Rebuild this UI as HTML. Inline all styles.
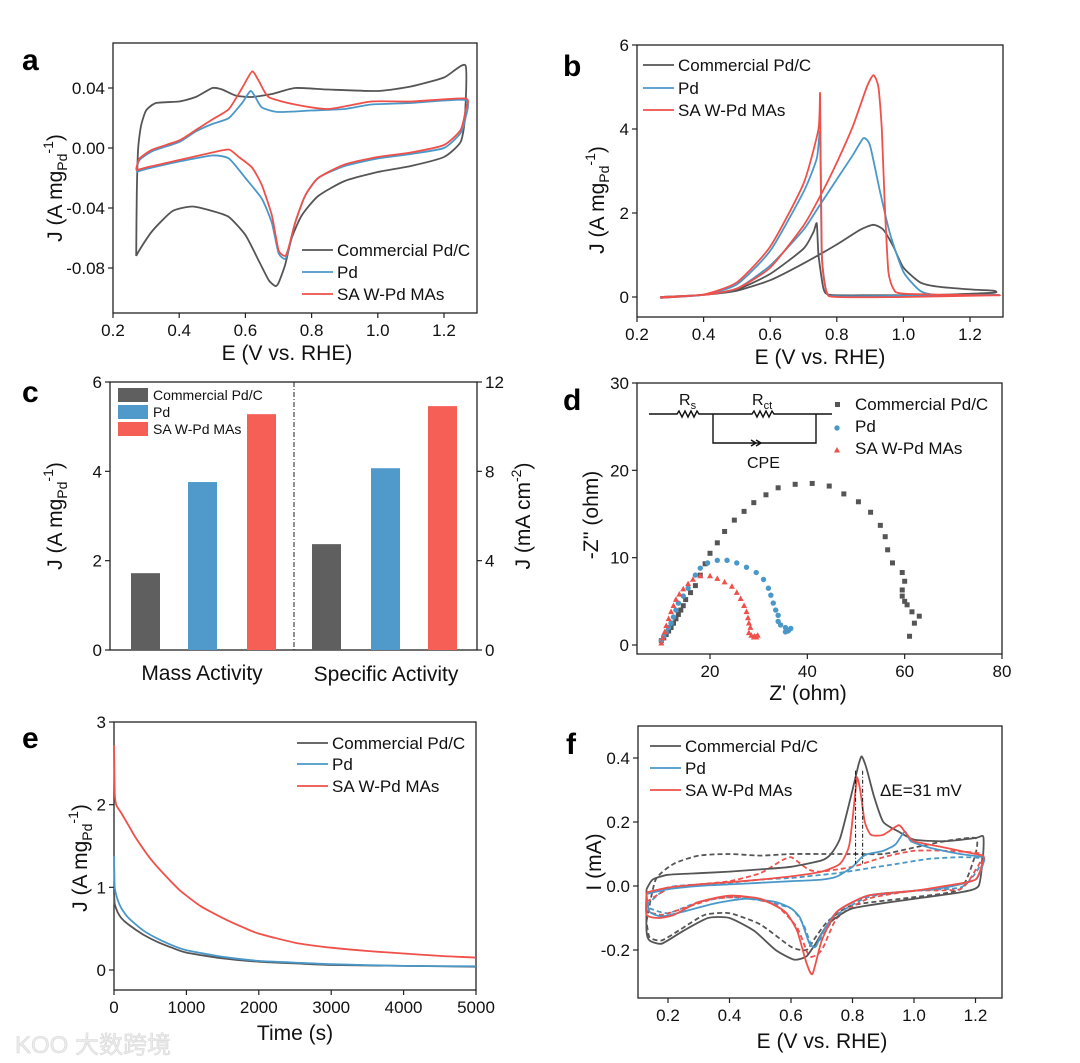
<!DOCTYPE html>
<html><head><meta charset="utf-8"><style>
html,body{margin:0;padding:0;background:#fff;}
svg{display:block;font-family:"Liberation Sans",Arial,sans-serif;}
</style></head><body>
<svg id="fig" width="1080" height="1063" viewBox="0 0 1080 1063" xmlns="http://www.w3.org/2000/svg">
<g font-weight="bold" font-size="30" fill="#000">
<text x="22" y="70">a</text>
<text x="563" y="76">b</text>
<text x="22" y="402">c</text>
<text x="563" y="410">d</text>
<text x="22" y="748">e</text>
<text x="566" y="754">f</text>
</g>
<g font-size="21" fill="#111">
<text x="287" y="360" text-anchor="middle">E (V vs. RHE)</text>
<text transform="translate(62,188) rotate(-90)" text-anchor="middle">J (A mg<tspan font-size="14" dy="5">Pd</tspan><tspan font-size="14" dy="-14">-1</tspan><tspan dy="9">)</tspan></text>
<text x="820" y="364" text-anchor="middle">E (V vs. RHE)</text>
<text transform="translate(604,200) rotate(-90)" text-anchor="middle">J (A mg<tspan font-size="14" dy="5">Pd</tspan><tspan font-size="14" dy="-14">-1</tspan><tspan dy="9">)</tspan></text>
<text transform="translate(62,516) rotate(-90)" text-anchor="middle">J (A mg<tspan font-size="14" dy="5">Pd</tspan><tspan font-size="14" dy="-14">-1</tspan><tspan dy="9">)</tspan></text>
<text transform="translate(530,516) rotate(-90)" text-anchor="middle">J (mA cm<tspan font-size="14" dy="-9">-2</tspan><tspan dy="9">)</tspan></text>
<text x="202" y="680" text-anchor="middle">Mass Activity</text>
<text x="386" y="681" text-anchor="middle">Specific Activity</text>
<text x="808" y="700" text-anchor="middle">Z' (ohm)</text>
<text transform="translate(598,515) rotate(-90)" text-anchor="middle">-Z'' (ohm)</text>
<text x="295" y="1040" text-anchor="middle">Time (s)</text>
<text transform="translate(87,858) rotate(-90)" text-anchor="middle">J (A mg<tspan font-size="14" dy="5">Pd</tspan><tspan font-size="14" dy="-14">-1</tspan><tspan dy="9">)</tspan></text>
<text x="822" y="1048" text-anchor="middle">E (V vs. RHE)</text>
<text transform="translate(601,862) rotate(-90)" text-anchor="middle">I (mA)</text>
</g>
<text x="15" y="1053" font-size="24" font-family="'Liberation Sans','Noto Sans CJK SC',sans-serif" fill="#ececec" stroke="#d8d8d8" stroke-width="0.6">KOO 大数跨境</text>
</svg>
<script>
// ===== Panel a data (CV) =====
const aGrayE=[0.27,0.272,0.276,0.285,0.30,0.33,0.40,0.45,0.50,0.53,0.57,0.62,0.68,0.75,0.85,1.0,1.1,1.2,1.265,1.263,1.25,1.2,1.1,1.0,0.9,0.82,0.77,0.74,0.72,0.70,0.69,0.67,0.64,0.60,0.55,0.50,0.44,0.38,0.32,0.28,0.27];
const aGrayJ=[-0.072,-0.03,0.0,0.015,0.025,0.030,0.031,0.034,0.040,0.039,0.035,0.034,0.036,0.040,0.039,0.038,0.041,0.047,0.055,0.02,0.004,-0.006,-0.012,-0.016,-0.022,-0.032,-0.045,-0.060,-0.078,-0.090,-0.092,-0.088,-0.075,-0.058,-0.046,-0.042,-0.039,-0.042,-0.055,-0.068,-0.072];
const aBlueE=[0.27,0.28,0.32,0.40,0.45,0.50,0.55,0.59,0.615,0.63,0.65,0.70,0.80,0.90,0.98,1.1,1.265,1.265,1.25,1.2,1.1,1.0,0.9,0.82,0.78,0.75,0.73,0.72,0.70,0.68,0.65,0.60,0.55,0.50,0.40,0.30,0.27];
const aBlueJ=[-0.015,-0.008,-0.002,0.004,0.011,0.016,0.020,0.030,0.038,0.034,0.027,0.024,0.025,0.026,0.029,0.030,0.032,0.020,0.010,0.0,-0.004,-0.007,-0.012,-0.020,-0.032,-0.050,-0.068,-0.074,-0.070,-0.050,-0.034,-0.020,-0.007,-0.005,-0.009,-0.014,-0.016];
const aRedE=[0.27,0.28,0.32,0.40,0.45,0.50,0.55,0.59,0.62,0.64,0.67,0.75,0.85,0.98,1.1,1.265,1.265,1.25,1.2,1.1,1.0,0.9,0.82,0.78,0.75,0.73,0.72,0.70,0.68,0.65,0.62,0.58,0.55,0.50,0.40,0.30,0.27];
const aRedJ=[-0.014,-0.007,-0.001,0.005,0.012,0.019,0.026,0.040,0.051,0.045,0.034,0.029,0.026,0.031,0.031,0.033,0.025,0.012,0.002,-0.003,-0.006,-0.011,-0.020,-0.032,-0.050,-0.067,-0.072,-0.068,-0.045,-0.025,-0.013,-0.006,-0.001,-0.003,-0.008,-0.013,-0.015];
const aXTicks=[0.2,0.4,0.6,0.8,1.0,1.2];
const aXLabels=['0.2','0.4','0.6','0.8','1.0','1.2'];
const aYTicks=[0.04,0.0,-0.04,-0.08];
const aYLabels=['0.04','0.00','-0.04','-0.08'];
// ===== Panel b data (forward + backward scans) =====
const bGrayE=[0.27,0.40,0.50,0.60,0.70,0.80,0.87,0.91,0.94,0.97,1.0,1.05,1.1,1.2,1.27,1.27,1.1,0.9,0.78,0.76,0.745,0.74,0.73,0.70,0.60,0.50,0.40,0.27];
const bGrayJ=[0,0.05,0.15,0.40,0.80,1.25,1.60,1.72,1.60,1.20,0.70,0.35,0.25,0.18,0.15,0.10,0.05,0.04,0.05,0.20,1.0,1.75,1.55,1.15,0.55,0.18,0.05,-0.02];
const bBlueE=[0.27,0.40,0.50,0.60,0.70,0.75,0.80,0.85,0.88,0.90,0.93,0.96,1.0,1.05,1.1,1.27,1.27,1.0,0.80,0.77,0.755,0.75,0.74,0.70,0.60,0.50,0.40,0.27];
const bBlueJ=[0,0.05,0.20,0.75,1.60,2.20,2.80,3.40,3.78,3.60,2.50,1.50,0.60,0.15,0.05,0.05,0.05,0.03,0.02,0.10,1.0,3.90,3.30,2.50,1.10,0.30,0.05,-0.02];
const bRedE=[0.27,0.40,0.50,0.60,0.70,0.75,0.80,0.85,0.89,0.91,0.925,0.935,0.945,0.955,0.97,1.0,1.27,1.27,1.0,0.80,0.77,0.755,0.75,0.745,0.70,0.60,0.50,0.40,0.27];
const bRedJ=[0,0.05,0.20,0.70,1.70,2.40,3.20,4.10,5.00,5.28,5.00,4.00,2.00,0.60,0.20,0.08,0.04,0.04,0.0,0.0,0.10,1.0,4.80,4.00,2.70,1.20,0.35,0.06,-0.02];
const bXTicks=[0.2,0.4,0.6,0.8,1.0,1.2];
const bXLabels=['0.2','0.4','0.6','0.8','1.0','1.2'];
const bYTicks=[0,2,4,6];
const bYLabels=['0','2','4','6'];
// ===== Panel c data (bars) =====
const cCategories=['Mass Activity','Specific Activity'];
const cSeries=['Commercial Pd/C','Pd','SA W-Pd MAs'];
const cMassActivity=[1.72,3.76,5.28];
const cSpecificActivity=[4.74,8.14,10.92];
const cLeftTicks=[0,2,4,6];
const cLeftLabels=['0','2','4','6'];
const cRightTicks=[0,4,8,12];
const cRightLabels=['0','4','8','12'];
// ===== Panel d data (Nyquist) =====
const dGrayX=[10,10.5,11,11.5,12,12.5,13,13.5,14,14.5,15,16,17,18,19,20,21.5,23,25,27,29,31.5,34,37.5,41,44.5,47.5,50.5,53,55,56,56.5,57.5,59.5,60,59.5,59.5,60,60.5,61.5,63,62,61];
const dGrayY=[0.5,0.8,1.2,1.6,2.0,2.5,3.0,3.5,4.0,4.5,5.2,6.0,6.8,8.0,9.3,10.5,11.7,13.0,14.3,15.3,16.3,17.2,18.0,18.4,18.5,18.2,17.3,16.4,15.2,13.7,12.4,10.9,9.4,8.3,7.3,6.3,5.6,5.0,4.6,3.8,3.3,2.5,1.0];
const dBlueX=[10,10.5,11,11.5,12,12.5,13,13.5,14.5,15.5,17,18,19.5,21.5,23.5,25.5,27.5,29.5,31,32,32.5,33,33.5,34,34,34.5,35.5,36.2,36.6,36,35.5];
const dBlueY=[0.5,1.0,1.5,2.0,2.5,3.2,4.0,4.8,5.6,6.5,8.0,8.8,9.4,9.7,9.7,9.4,8.9,8.3,7.5,6.5,5.7,4.8,4.0,3.4,2.7,2.3,2.0,1.7,1.9,1.6,1.5];
const dRedX=[10,10.3,10.7,11,11.5,12,12.5,13,13.7,14.5,15.5,16.5,18,20,21.5,23,24.5,25.5,26.3,27,27.5,27.8,28,28.3,28,28.5,29.2,29.8,29.5,29];
const dRedY=[0.2,0.8,1.5,2.2,3.0,3.8,4.5,5.2,5.8,6.4,7.0,7.5,7.9,7.9,7.6,7.2,6.7,6.0,5.3,4.5,3.8,3.1,2.5,2.0,1.4,1.1,1.0,1.1,0.9,0.9];
const dXTicks=[20,40,60,80];
const dXLabels=['20','40','60','80'];
const dYTicks=[0,10,20,30];
const dYLabels=['0','10','20','30'];
// ===== Panel e data (chronoamperometry) =====
const eRedT=[0,10,30,100,200,300,500,700,900,1000,1200,1500,1800,2000,2500,3000,3500,4000,4500,5000];
const eRedJ=[2.72,2.15,2.0,1.9,1.75,1.6,1.35,1.15,0.97,0.9,0.77,0.63,0.51,0.44,0.33,0.27,0.23,0.2,0.17,0.15];
const eBlueT=[0,10,50,100,200,400,600,800,1000,1500,2000,2500,3000,4000,5000];
const eBlueJ=[1.38,1.0,0.85,0.75,0.63,0.48,0.38,0.30,0.24,0.16,0.11,0.09,0.07,0.05,0.045];
const eGrayT=[0,10,50,100,200,400,600,800,1000,1500,2000,2500,3000,4000,5000];
const eGrayJ=[0.95,0.8,0.7,0.63,0.55,0.43,0.34,0.27,0.21,0.14,0.10,0.08,0.06,0.05,0.04];
const eXTicks=[0,1000,2000,3000,4000,5000];
const eXLabels=['0','1000','2000','3000','4000','5000'];
const eYTicks=[0,1,2,3];
const eYLabels=['0','1','2','3'];
// ===== Panel f data =====
const fGrayE=[0.13,0.15,0.2,0.3,0.4,0.5,0.6,0.7,0.73,0.76,0.8,0.82,0.83,0.845,0.87,0.9,0.95,1.0,1.1,1.2,1.225,1.225,1.21,1.15,1.0,0.8,0.72,0.68,0.65,0.61,0.55,0.48,0.4,0.33,0.25,0.18,0.14,0.13,0.13];
const fGrayI=[-0.01,0.02,0.035,0.04,0.045,0.052,0.06,0.08,0.1,0.15,0.3,0.38,0.405,0.37,0.28,0.2,0.17,0.145,0.14,0.15,0.155,0.1,0.0,-0.02,-0.04,-0.07,-0.12,-0.18,-0.22,-0.23,-0.2,-0.14,-0.1,-0.1,-0.14,-0.18,-0.17,-0.14,-0.01];
const fRedE=[0.13,0.2,0.3,0.4,0.5,0.6,0.7,0.76,0.79,0.81,0.815,0.825,0.84,0.86,0.9,0.95,0.97,1.0,1.1,1.2,1.225,1.225,1.2,1.1,1.0,0.85,0.75,0.7,0.67,0.65,0.62,0.58,0.5,0.4,0.3,0.22,0.17,0.13,0.13];
const fRedI=[-0.02,-0.005,0.005,0.012,0.02,0.03,0.045,0.07,0.13,0.3,0.34,0.3,0.2,0.16,0.16,0.19,0.17,0.14,0.12,0.1,0.095,0.08,0.02,0.0,-0.015,-0.03,-0.08,-0.17,-0.275,-0.24,-0.14,-0.08,-0.04,-0.03,-0.05,-0.09,-0.1,-0.09,-0.02];
const fBlueE=[0.13,0.2,0.3,0.4,0.5,0.6,0.7,0.75,0.8,0.83,0.85,0.9,0.94,0.97,0.99,1.05,1.15,1.225,1.225,1.2,1.1,1.0,0.85,0.75,0.7,0.68,0.66,0.63,0.6,0.55,0.45,0.35,0.25,0.18,0.14,0.13];
const fBlueI=[-0.025,-0.01,0.0,0.005,0.01,0.015,0.02,0.03,0.06,0.09,0.1,0.11,0.13,0.17,0.14,0.12,0.1,0.09,0.07,0.02,-0.005,-0.015,-0.03,-0.08,-0.15,-0.19,-0.18,-0.1,-0.07,-0.05,-0.04,-0.055,-0.08,-0.095,-0.08,-0.025];
const fGrayDashE=[0.13,0.16,0.22,0.3,0.4,0.5,0.6,0.7,0.8,0.9,1.0,1.1,1.2,1.2,1.15,1.0,0.8,0.72,0.68,0.65,0.6,0.5,0.4,0.32,0.25,0.18,0.14,0.13];
const fGrayDashI=[-0.11,0.02,0.07,0.095,0.1,0.095,0.1,0.1,0.1,0.1,0.12,0.14,0.15,0.1,-0.01,-0.035,-0.06,-0.11,-0.16,-0.2,-0.19,-0.12,-0.085,-0.09,-0.13,-0.17,-0.16,-0.11];
const fRedDashE=[0.13,0.2,0.3,0.4,0.5,0.57,0.6,0.63,0.66,0.7,0.8,0.9,1.0,1.1,1.22,1.2,1.15,1.0,0.85,0.75,0.7,0.66,0.62,0.55,0.45,0.35,0.25,0.18,0.13];
const fRedDashI=[-0.05,-0.01,0.005,0.015,0.04,0.08,0.09,0.07,0.05,0.045,0.06,0.09,0.11,0.11,0.1,0.05,-0.01,-0.015,-0.04,-0.1,-0.2,-0.22,-0.13,-0.06,-0.035,-0.04,-0.07,-0.09,-0.08];
const fBlueDashE=[0.13,0.2,0.3,0.4,0.5,0.6,0.65,0.75,0.85,0.95,1.05,1.15,1.22,1.2,1.15,1.0,0.85,0.75,0.7,0.67,0.64,0.6,0.5,0.4,0.3,0.2,0.14];
const fBlueDashI=[-0.06,-0.005,0.005,0.01,0.02,0.025,0.03,0.04,0.055,0.07,0.085,0.09,0.085,0.04,-0.005,-0.015,-0.035,-0.09,-0.16,-0.19,-0.12,-0.07,-0.045,-0.035,-0.05,-0.085,-0.07];
const fPeakE=[0.81,0.833];
const fXTicks=[0.2,0.4,0.6,0.8,1.0,1.2];
const fXLabels=['0.2','0.4','0.6','0.8','1.0','1.2'];
const fYTicks=[-0.2,0.0,0.2,0.4];
const fYLabels=['-0.2','0.0','0.2','0.4'];

const NS='http://www.w3.org/2000/svg';
const svg=document.getElementById('fig');
const GRAY='#555555',BLUE='#4a98c9',RED='#f0504a';
function mk(tag,attrs,parent){const e=document.createElementNS(NS,tag);for(const k in attrs)e.setAttribute(k,attrs[k]);(parent||svg).appendChild(e);return e;}
function lin(d0,d1,r0,r1){return v=>r0+(v-d0)/(d1-d0)*(r1-r0);}
function smoothPath(xs,ys,sx,sy){
  const p=xs.map((x,i)=>[sx(x),sy(ys[i])]);
  let d='M'+p[0][0].toFixed(1)+','+p[0][1].toFixed(1);
  for(let i=0;i<p.length-1;i++){
    const p0=p[Math.max(0,i-1)],p1=p[i],p2=p[i+1],p3=p[Math.min(p.length-1,i+2)];
    const t=0.1;
    const c1=[p1[0]+(p2[0]-p0[0])*t,p1[1]+(p2[1]-p0[1])*t];
    const c2=[p2[0]-(p3[0]-p1[0])*t,p2[1]-(p3[1]-p1[1])*t];
    d+='C'+c1[0].toFixed(1)+','+c1[1].toFixed(1)+' '+c2[0].toFixed(1)+','+c2[1].toFixed(1)+' '+p2[0].toFixed(1)+','+p2[1].toFixed(1);
  }
  return d;
}
function frame(prefix,box,sx,sy,xt,xl,yt,yl){
  const g=mk('g',{});
  
  
  const r=mk('rect',{x:box.l,y:box.t,width:box.r-box.l,height:box.b-box.t,fill:'none',stroke:'#222','stroke-width':1.3},g);
  
  
  xt.forEach((v,i)=>{
    const x=sx(v);
    mk('line',{x1:x,x2:x,y1:box.b,y2:box.b+5,stroke:'#222','stroke-width':1.2},g);
    const t=mk('text',{x:x,y:box.b+23,'text-anchor':'middle','font-size':17,fill:'#111'},g);
    t.textContent=xl[i];
    
    
  });
  yt.forEach((v,i)=>{
    const y=sy(v);
    mk('line',{x1:box.l-5,x2:box.l,y1:y,y2:y,stroke:'#222','stroke-width':1.2},g);
    const t=mk('text',{x:box.l-8,y:y+6,'text-anchor':'end','font-size':17,fill:'#111'},g);
    t.textContent=yl[i];
    
    
  });
  return g;
}
function line(prefix,name,xs,ys,sx,sy,color,dash){
  const p=mk('path',{d:smoothPath(xs,ys,sx,sy),fill:'none',stroke:color,'stroke-width':1.8,'stroke-linejoin':'round'});
  if(dash)p.setAttribute('stroke-dasharray',dash);
  
  
}
function legendLine(prefix,x,y,color,label,name,fs){
  const l=mk('line',{x1:x,x2:x+31,y1:y,y2:y,stroke:color,'stroke-width':1.8});
  
  
  const t=mk('text',{x:x+35,y:y+6,'font-size':fs||17,fill:'#111'});
  t.textContent=label;
  
  
}

(function(){
  const box={l:113,r:477,t:43,b:313};
  const sx=lin(0.2,1.2,113,444), sy=lin(0,0.04,148,88);
  frame('a',box,sx,sy,aXTicks,aXLabels,aYTicks,aYLabels);
  line('a','commercial-pdc-curve',aGrayE,aGrayJ,sx,sy,GRAY);
  line('a','pd-curve',aBlueE,aBlueJ,sx,sy,BLUE);
  line('a','sa-w-pd-curve',aRedE,aRedJ,sx,sy,RED);
  legendLine('a',302,250,GRAY,'Commercial Pd/C','commercial');
  legendLine('a',302,272,BLUE,'Pd','pd');
  legendLine('a',302,294,RED,'SA W-Pd MAs','sa-w-pd');
})();
(function(){
  const box={l:637,r:1003,t:45,b:317};
  const sx=lin(0.2,1.2,637,970), sy=lin(0,6,297,45);
  frame('b',box,sx,sy,bXTicks,bXLabels,bYTicks,bYLabels);
  line('b','commercial-pdc-curve',bGrayE,bGrayJ,sx,sy,GRAY);
  line('b','pd-curve',bBlueE,bBlueJ,sx,sy,BLUE);
  line('b','sa-w-pd-curve',bRedE,bRedJ,sx,sy,RED);
  legendLine('b',643,65,GRAY,'Commercial Pd/C','commercial');
  legendLine('b',643,88,BLUE,'Pd','pd');
  legendLine('b',643,110,RED,'SA W-Pd MAs','sa-w-pd');
})();
(function(){
  const box={l:110,r:477,t:382,b:650};
  const sy=lin(0,6,650,382), syR=lin(0,12,650,382);
  const g=mk('g',{});
  
  
  const r=mk('rect',{x:box.l,y:box.t,width:box.r-box.l,height:box.b-box.t,fill:'none',stroke:'#222','stroke-width':1.3},g);
  
  
  cLeftTicks.forEach((v,i)=>{const y=sy(v);mk('line',{x1:box.l-5,x2:box.l,y1:y,y2:y,stroke:'#222','stroke-width':1.2},g);
    const t=mk('text',{x:box.l-8,y:y+6,'text-anchor':'end','font-size':17,fill:'#111'},g);t.textContent=cLeftLabels[i];
    
    });
  cRightTicks.forEach((v,i)=>{const y=syR(v);mk('line',{x1:box.r,x2:box.r+5,y1:y,y2:y,stroke:'#222','stroke-width':1.2},g);
    const t=mk('text',{x:box.r+8,y:y+6,'text-anchor':'start','font-size':17,fill:'#111'},g);t.textContent=cRightLabels[i];
    
    });
  const div=mk('line',{x1:294,x2:294,y1:box.t,y2:box.b,stroke:'#222','stroke-width':1,'stroke-dasharray':'5,2,1,2'});
  
  
  const cols=['#5f5f5f','#4f9acb','#f65f55'];
  const names=['commercial','pd','sa-w-pd'];
  const massX=[131,188,247], specX=[312,371,428], bw=29;
  cMassActivity.forEach((v,i)=>{
    const b=mk('rect',{x:massX[i],y:sy(v),width:bw,height:650-sy(v),fill:cols[i]});
    
    
  });
  cSpecificActivity.forEach((v,i)=>{
    const b=mk('rect',{x:specX[i],y:syR(v),width:bw,height:650-syR(v),fill:cols[i]});
    
    
  });
  const ly=[395,412,429];
  cSeries.forEach((s,i)=>{
    const sw=mk('rect',{x:118,y:ly[i]-7,width:30,height:14,fill:cols[i]});
    
    
    const t=mk('text',{x:153,y:ly[i]+5,'font-size':14,fill:'#111'});
    t.textContent=s;
    
    
  });
})();
(function(){
  const box={l:637,r:1002,t:383,b:654};
  const sx=lin(20,80,710,1002), sy=lin(0,30,645,383);
  frame('d',box,sx,sy,dXTicks,dXLabels,dYTicks,dYLabels);
  dGrayX.forEach((x,i)=>{const m=mk('rect',{x:sx(x)-2.5,y:sy(dGrayY[i])-2.5,width:5,height:5,fill:'#555'});
    
    });
  dBlueX.forEach((x,i)=>{const m=mk('circle',{cx:sx(x),cy:sy(dBlueY[i]),r:2.7,fill:BLUE});
    
    });
  dRedX.forEach((x,i)=>{const cx=sx(x),cy=sy(dRedY[i]);
    const m=mk('polygon',{points:`${cx},${cy-3.3} ${cx-3},${cy+2.3} ${cx+3},${cy+2.3}`,fill:RED});
    
    });
  const c=mk('path',{d:'M649,414 H677 l2,-3 l3,6 l3,-6 l3,6 l3,-6 l3,6 l3,-6 l2,3 H752 l2,-3 l3,6 l3,-6 l3,6 l3,-6 l3,6 l3,-6 l2,3 H832 M713,414 V443 H816 V414 M756,443 l-5,-3 M756,443 l-5,3 M761,443 l-5,-3 M761,443 l-5,3',fill:'none',stroke:'#111','stroke-width':1.4});
  
  
  const l1=mk('text',{x:679,y:405,'font-size':16,fill:'#111'});l1.innerHTML='R<tspan font-size="11" dy="4">s</tspan>';
  
  
  const l2=mk('text',{x:752,y:405,'font-size':16,fill:'#111'});l2.innerHTML='R<tspan font-size="11" dy="4">ct</tspan>';
  
  
  const l3=mk('text',{x:747,y:468,'font-size':16,fill:'#111'});l3.textContent='CPE';
  
  
  const m1=mk('rect',{x:835,y:402,width:5,height:5,fill:'#555'});
  
  
  const m2=mk('circle',{cx:837,cy:428,r:2.7,fill:BLUE});
  
  
  const m3=mk('polygon',{points:'837,447 834,452.5 840,452.5',fill:RED});
  
  
  [['Commercial Pd/C',410,'commercial'],['Pd',432,'pd'],['SA W-Pd MAs',454,'sa-w-pd']].forEach(a=>{
    const t=mk('text',{x:855,y:a[1],'font-size':17,fill:'#111'});t.textContent=a[0];
    
    
  });
})();
(function(){
  const box={l:114,r:476,t:722,b:990};
  const sx=lin(0,5000,114,476), sy=lin(0,3,970,722);
  frame('e',box,sx,sy,eXTicks,eXLabels,eYTicks,eYLabels);
  line('e','commercial-pdc-curve',eGrayT,eGrayJ,sx,sy,GRAY);
  line('e','pd-curve',eBlueT,eBlueJ,sx,sy,BLUE);
  line('e','sa-w-pd-curve',eRedT,eRedJ,sx,sy,RED);
  legendLine('e',297,743,GRAY,'Commercial Pd/C','commercial');
  legendLine('e',297,764,BLUE,'Pd','pd');
  legendLine('e',297,786,RED,'SA W-Pd MAs','sa-w-pd');
})();
(function(){
  const box={l:638,r:1002,t:726,b:998};
  const sx=lin(0.2,1.2,668,975.5), sy=lin(0,0.2,886,822);
  frame('f',box,sx,sy,fXTicks,fXLabels,fYTicks,fYLabels);
  line('f','commercial-pdc-second-scan',fGrayDashE,fGrayDashI,sx,sy,GRAY,'5,3');
  line('f','pd-second-scan',fBlueDashE,fBlueDashI,sx,sy,BLUE,'5,3');
  line('f','sa-w-pd-second-scan',fRedDashE,fRedDashI,sx,sy,RED,'5,3');
  line('f','commercial-pdc-curve',fGrayE,fGrayI,sx,sy,GRAY);
  line('f','pd-curve',fBlueE,fBlueI,sx,sy,BLUE);
  line('f','sa-w-pd-curve',fRedE,fRedI,sx,sy,RED);
  fPeakE.forEach(v=>{
    const l=mk('line',{x1:sx(v),x2:sx(v),y1:sy(0.36),y2:sy(0.07),stroke:'#111','stroke-width':1,'stroke-dasharray':'4,2,1,2'});
    
    
  });
  const t=mk('text',{x:880,y:796,'font-size':17,fill:'#111'});t.textContent='\u0394E=31 mV';
  
  
  legendLine('f',650,746,GRAY,'Commercial Pd/C','commercial');
  legendLine('f',650,768,BLUE,'Pd','pd');
  legendLine('f',650,790,RED,'SA W-Pd MAs','sa-w-pd');
})();
</script>
</body></html>
